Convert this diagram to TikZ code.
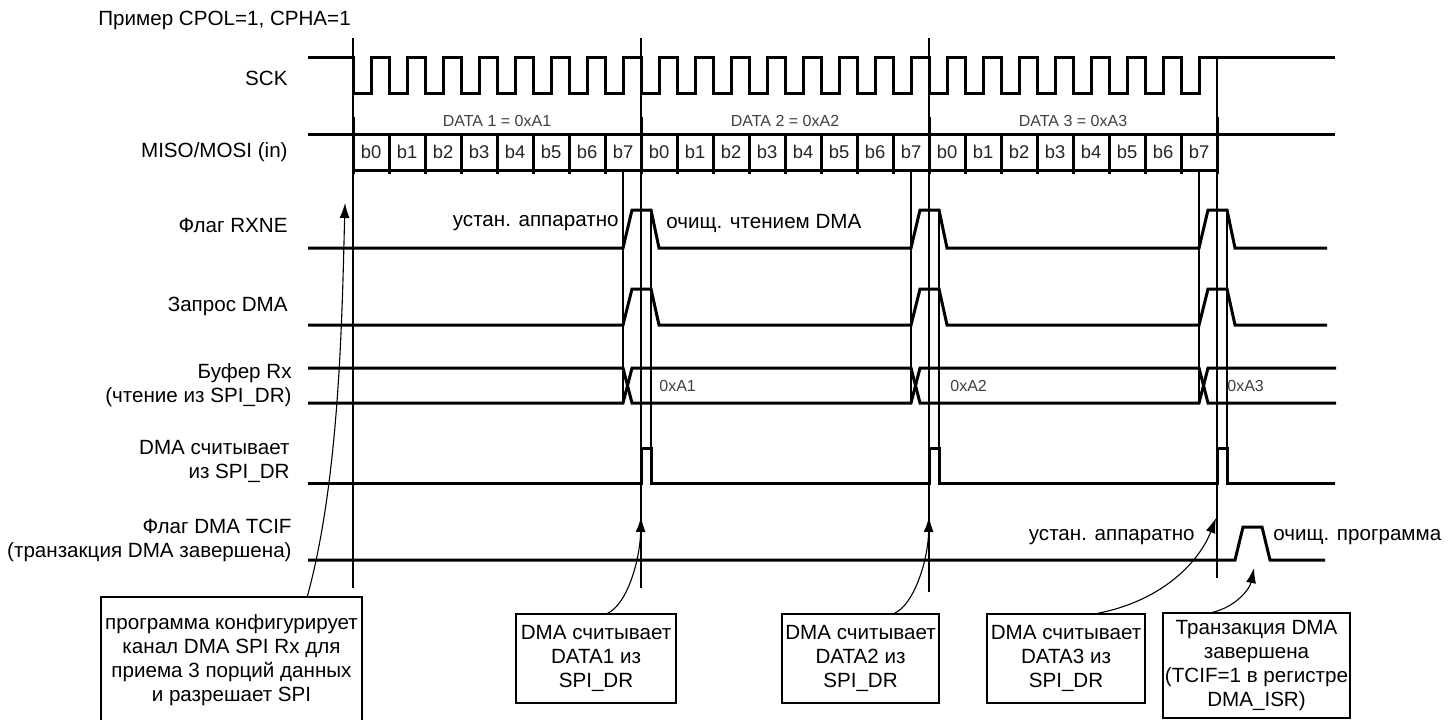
\documentclass[tikz,border=0pt]{standalone}
\usepackage{fontspec}
\setmainfont{Liberation Sans}
\usetikzlibrary{arrows.meta}
\begin{document}
\begin{tikzpicture}[x=0.5pt,y=-0.5pt,
  sig/.style={line width=1.5pt,line join=miter},
  thinl/.style={line width=0.65pt},
  lbl/.style={font=\fontsize{10.3}{12}\selectfont,inner sep=0pt,text=black},
  smalltxt/.style={font=\fontsize{8}{9}\selectfont,inner sep=0pt,text=black!75},
  bit/.style={font=\fontsize{9.2}{10}\selectfont,inner sep=0pt,text=black!85},
  box/.style={draw,line width=0.65pt,align=center,font=\fontsize{10.3}{12}\selectfont,inner sep=1pt,text=black},
  arr/.style={line width=0.55pt,-{Latex[length=7.5pt,width=5pt]}}]
\useasboundingbox (0,0) rectangle (1455,719);
\fill[white] (0,0) rectangle (1455,719);

% title
\node[lbl,anchor=west] (title) at (98,20) {Пример CPOL=1, CPHA=1};

% row labels
\node[lbl,anchor=east] (lsck) at (288,78) {SCK};
\node[lbl,anchor=east] (lmiso) at (288,152) {MISO/MOSI (in)};
\node[lbl,anchor=east] (lrxne) at (288,225) {Флаг RXNE};
\node[lbl,anchor=east] (lreq) at (288,306) {Запрос DMA};
\node[lbl,anchor=east,align=right] (lbuf) at (292,385) {Буфер Rx\\(чтение из SPI\_DR)};
\node[lbl,anchor=east,align=right] (lrd) at (290,461) {DMA считывает\\из SPI\_DR};
\node[lbl,anchor=east,align=right] (ltc) at (292,540) {Флаг DMA TCIF\\(транзакция DMA завершена)};

% long thin verticals
\draw[thinl] (353,38) -- (353,588);
\draw[thinl] (641,38) -- (641,588);
\draw[thinl] (929,38) -- (929,592);
\draw[thinl] (1217,57) -- (1217,578);
\foreach \b in {641,929,1217}{
  \draw[thinl] ({\b-18},170) -- ({\b-18},403);
  \draw[thinl] ({\b+10},210) -- ({\b+10},448);
}

% SCK
\draw[sig] (308,57) -- (353,57)
  \foreach \i in {0,...,23}{ -- ({353+36*\i},93) -- ({371+36*\i},93) -- ({371+36*\i},57) -- ({389+36*\i},57) }
  -- (1335,57);

% MISO/MOSI
\draw[sig] (308,134) -- (1335,134);
\draw[sig] (353,170) -- (1217,170);
\foreach \i in {0,...,24}{ \draw[sig] ({353+36*\i},134) -- ({353+36*\i},174); }
\foreach \b in {353,641,929,1217}{ \draw[sig] (\b,117) -- (\b,134); }
\foreach \k in {0,1,2}{
  \foreach \j in {0,...,7}{
    \node[bit] at ({371+288*\k+36*\j},152) {b\j};
  }
}
\node[smalltxt] (d1) at (497,121) {DATA 1 = 0xA1};
\node[smalltxt] (d2) at (785,121) {DATA 2 = 0xA2};
\node[smalltxt] (d3) at (1073,121) {DATA 3 = 0xA3};

% RXNE
\draw[sig] (308,248) \foreach \b in {641,929,1217}{ -- ({\b-18},248) -- ({\b-9},210) -- ({\b+10},210) -- ({\b+18},248) } -- (1327,248);
\node[lbl,anchor=east] (rset) at (619,223) {устан. аппаратно};
\node[lbl,anchor=west] (rclr) at (666,223) {очищ. чтением DMA};

% DMA request
\draw[sig] (308,325) \foreach \b in {641,929,1217}{ -- ({\b-18},325) -- ({\b-9},289) -- ({\b+10},289) -- ({\b+18},325) } -- (1327,325);

% Rx buffer
\draw[sig] (308,368) -- (623,368) -- (632,403) -- (911,403) -- (920,368) -- (1199,368) -- (1208,403) -- (1336,403);
\draw[sig] (308,403) -- (623,403) -- (632,368) -- (911,368) -- (920,403) -- (1199,403) -- (1208,368) -- (1336,368);
\node[smalltxt,anchor=west] (v1) at (659,386) {0xA1};
\node[smalltxt,anchor=west] (v2) at (950,386) {0xA2};
\node[smalltxt,anchor=west] (v3) at (1227,386) {0xA3};

% DMA read
\draw[sig] (308,483) \foreach \b in {641,929,1217}{ -- (\b,483) -- (\b,448) -- ({\b+10},448) -- ({\b+10},483) } -- (1335,483);

% TCIF
\draw[sig] (308,560) -- (1235,560) -- (1243,527) -- (1262,527) -- (1270,560) -- (1325,560);
\node[lbl,anchor=east] (tset) at (1195,537) {устан. аппаратно};
\node[lbl,anchor=west] (tclr) at (1273,537) {очищ. программа};

% boxes
\node[box,minimum width=130.5pt,minimum height=63pt] (b1) at (231.5,660)
  {программа конфигурирует\\канал DMA SPI Rx для\\приема 3 порций данных\\и разрешает SPI};
\node[box,minimum width=80pt,minimum height=44.5pt] (b2) at (596,658.5) {DMA считывает\\DATA1 из\\SPI\_DR};
\node[box,minimum width=78.5pt,minimum height=44.5pt] (b3) at (860.5,658.5) {DMA считывает\\DATA2 из\\SPI\_DR};
\node[box,minimum width=79pt,minimum height=44.5pt] (b4) at (1066,658.5) {DMA считывает\\DATA3 из\\SPI\_DR};
\node[box,minimum width=93.5pt,minimum height=52.5pt] (b5) at (1256.5,665.5) {Транзакция DMA\\завершена\\(TCIF=1 в регистре\\DMA\_ISR)};

% arrow targets
\coordinate (t1) at (345,203);
\coordinate (t2) at (641,517);
\coordinate (t3) at (929,517);
\coordinate (t4) at (1216,518);
\coordinate (t5) at (1254,568);

\draw[arr] ([xshift=103.5pt]b1.north west) .. controls +(32,-117) and +(-3,117) .. (t1);
\draw[arr] ([xshift=46pt]b2.north west) .. controls +(20,-9) and +(-1,43) .. (t2);
\draw[arr] ([xshift=56.5pt]b3.north west) .. controls +(20,-9) and +(-1,43) .. (t3);
\draw[arr] ([xshift=55.5pt]b4.north west) .. controls +(67,-13) and +(-16,42) .. (t4);
\draw[arr] ([xshift=25pt]b5.north west) .. controls +(25,-6) and +(-4,20) .. (t5);
\end{tikzpicture}
\end{document}
